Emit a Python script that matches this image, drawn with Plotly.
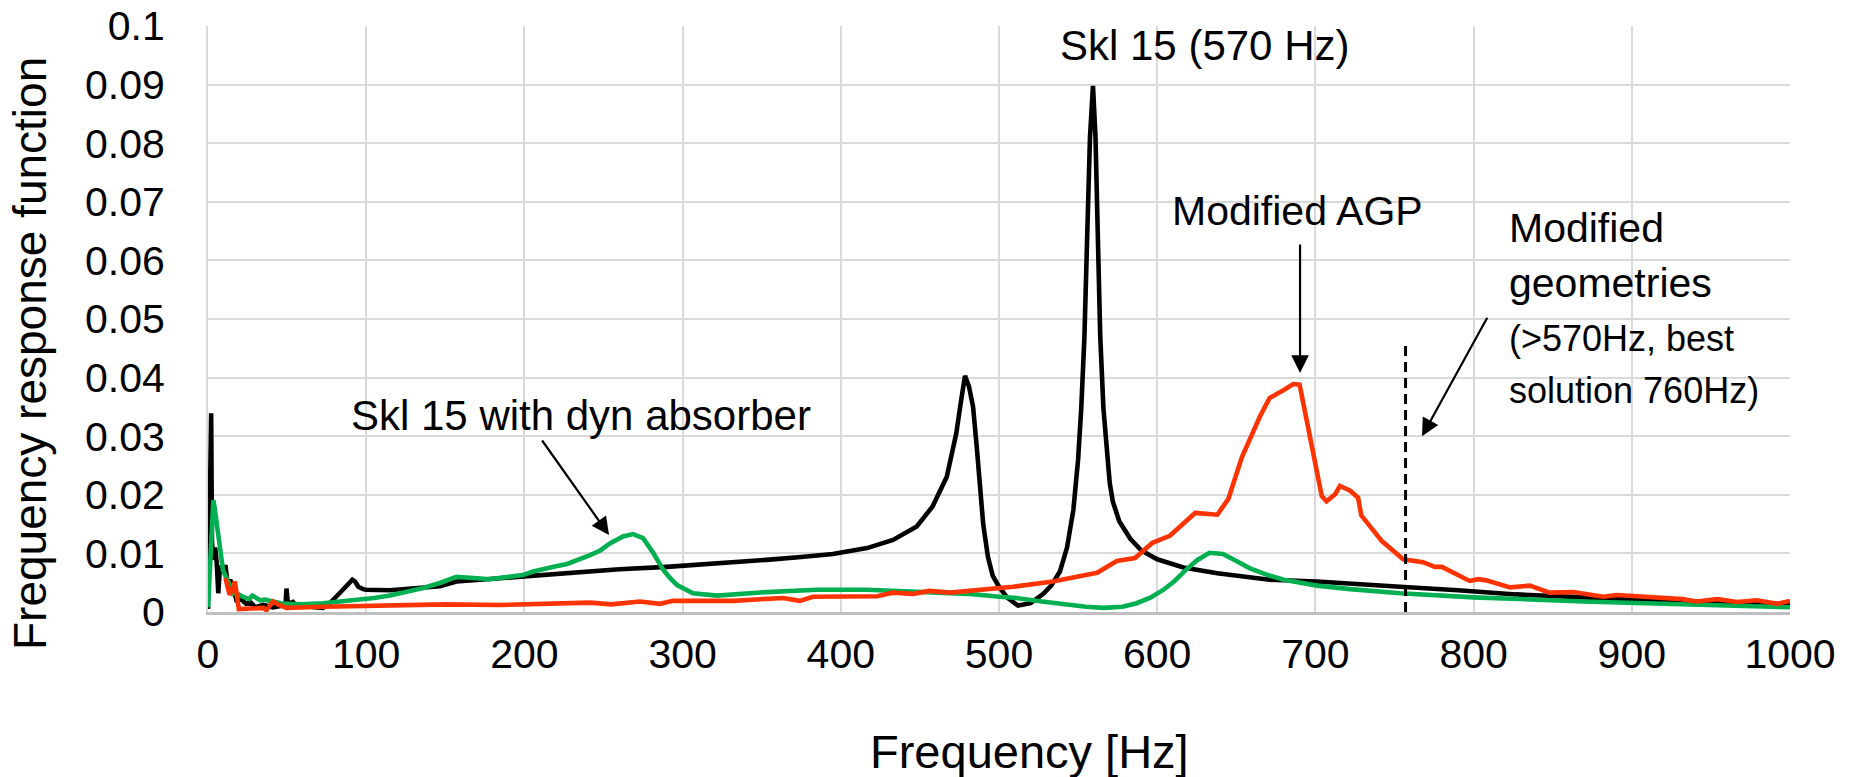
import plotly.graph_objects as go

# ---------------- data ----------------
black_f = [0, 0.5, 1, 2, 2.5, 3.4, 4.5, 5.5, 6.5, 7.5, 8.5, 10, 11, 12.6, 14, 15, 18, 21, 24, 27, 30,
           35, 41, 45, 49, 49.6, 50.5, 53.7, 56, 62, 67, 72.6, 76, 81, 85, 88, 91.3, 93, 95, 98, 100,
           115, 130, 146.6, 157, 180, 199, 227, 241.5, 260, 290, 320, 353, 375, 395, 416.6, 433, 448,
           458, 467, 473, 476, 478.5, 481, 483.6, 486, 488, 490, 493, 496, 499.6, 505, 512, 520, 528,
           533, 538.5, 543, 547, 550, 552, 554, 555.6, 557.5, 559.4, 561, 562.6, 564, 566, 568, 570,
           572, 576, 583, 590, 600, 616.6, 638, 660, 671, 701, 722, 753.5, 790, 827, 870, 900, 950, 1000]
black_v = [0.0005, 0.022, 0.015, 0.0339, 0.012, 0.0089, 0.011, 0.0085, 0.0032, 0.0075, 0.0077, 0.0068,
           0.0080, 0.0043, 0.0055, 0.0048, 0.0020, 0.0022, 0.0014, 0.0016, 0.0008,
           0.0012, 0.0008, 0.0010, 0.0012, 0.0040, 0.0014, 0.0017, 0.0010, 0.0011, 0.0008, 0.0007,
           0.0012, 0.0026, 0.0038, 0.0047, 0.0055, 0.0052, 0.0043, 0.0039, 0.0038,
           0.0037, 0.0040, 0.0044, 0.0052, 0.0057, 0.0060, 0.0067, 0.0069, 0.0073, 0.0077, 0.0082,
           0.0089, 0.0094, 0.0099, 0.0109, 0.0123, 0.0146,
           0.0180, 0.0231, 0.0305, 0.0360, 0.0403, 0.0385, 0.0350, 0.0280, 0.0220, 0.0150, 0.0094,
           0.0062, 0.0045, 0.0025, 0.0011, 0.0015, 0.0031,
           0.0045, 0.0069, 0.0110, 0.0174, 0.0260, 0.0348, 0.0470, 0.0627, 0.0810, 0.0898, 0.0810,
           0.0627, 0.0470, 0.0348, 0.0270, 0.0220,
           0.0188, 0.0155, 0.0125, 0.0105, 0.0090, 0.0076, 0.0066, 0.0059, 0.0055, 0.0052, 0.0049,
           0.0043, 0.0037, 0.0030, 0.0025, 0.0021, 0.0017, 0.0013]

green_f = [0, 1.2, 2.5, 3.4, 4.4, 5.5, 6.5, 8, 9.5, 11, 12.6, 14, 15.8, 18, 22, 26, 28, 30.5, 33, 36,
           41, 46, 51.6, 60, 72.6, 85, 94, 105, 115, 125, 136, 147, 157, 168, 178, 199, 205.5, 220,
           227, 241.5, 248, 254, 262.3, 268.7, 275, 281.4, 287.8, 292, 296.5, 306.6, 321.7, 353, 385,
           416.6, 458, 480, 500.6, 511, 527, 543, 555, 566, 578, 587, 596, 604, 611, 617, 625, 633,
           641.6, 650, 659, 670, 680, 701, 722, 753.5, 800, 869, 930, 1000]
green_v = [0.0008, 0.0089, 0.016, 0.0191, 0.0174, 0.015, 0.0122, 0.0095, 0.0071, 0.0062, 0.0054,
           0.0045, 0.0031, 0.0032, 0.0026, 0.0022, 0.0028, 0.0024, 0.0020, 0.0021,
           0.0017, 0.0015, 0.0014, 0.0013, 0.0015, 0.0018, 0.0020, 0.0024, 0.0028, 0.0034, 0.0041,
           0.0050, 0.0060, 0.0058, 0.0056, 0.0063, 0.0069, 0.0078,
           0.0082, 0.0097, 0.0105, 0.0117, 0.0129, 0.0133, 0.0126, 0.0101, 0.0072, 0.0058, 0.0046,
           0.0032, 0.0028, 0.0034, 0.0038,
           0.0038, 0.0034, 0.0031, 0.0026, 0.0024, 0.0018, 0.0012, 0.0009, 0.0007, 0.0009, 0.0015,
           0.0025, 0.0038, 0.0053, 0.0069, 0.0088, 0.0101,
           0.0099, 0.0087, 0.0074, 0.0063, 0.0055, 0.0045, 0.0039, 0.0032, 0.0025, 0.0018, 0.0013,
           0.0008]

red_f = [11, 13.7, 17, 19.5, 27, 34.8, 36.9, 41, 45, 49.6, 72.6, 115, 150, 184.6, 220, 241.5, 255,
         273, 285.7, 294, 332, 363.5, 374, 382.4, 423, 433, 445.6, 456, 469, 490, 500.6, 509, 534,
         562, 574.5, 586, 597, 608, 624, 638, 645, 653.5, 665, 671, 680, 686, 690, 704, 707, 712.5,
         715.5, 722, 727, 729, 742, 755.5, 768, 775.6, 780, 797.5, 803, 808, 823, 835.6, 848, 863,
         882, 890.6, 932, 941, 954, 966.5, 979, 992, 1000]
red_v = [0.0058, 0.0029, 0.0052, 0.0005, 0.0006, 0.0007, 0.0003, 0.0018, 0.0012, 0.0007, 0.0009,
         0.0012, 0.0013, 0.0012, 0.0015, 0.0016, 0.0013,
         0.0018, 0.0014, 0.0019, 0.0019, 0.0024, 0.0019, 0.0026, 0.0027, 0.0033, 0.0031, 0.0036,
         0.0033, 0.0038, 0.0041, 0.0043, 0.0052,
         0.0067, 0.0087, 0.0092, 0.0118, 0.0130, 0.0169, 0.0166, 0.0193, 0.0264, 0.0334, 0.0365,
         0.0379, 0.0389, 0.0388, 0.0198, 0.0189, 0.0201,
         0.0215, 0.0207, 0.0195, 0.0165, 0.0121, 0.0090, 0.0085, 0.0077, 0.0077, 0.0053, 0.0056,
         0.0054, 0.0042, 0.0045, 0.0033, 0.0034,
         0.0026, 0.0029, 0.0022, 0.0018, 0.0022, 0.0017, 0.0020, 0.0014, 0.0019]

x_ticks = [0, 100, 200, 300, 400, 500, 600, 700, 800, 900, 1000]
y_ticks = [0, 0.01, 0.02, 0.03, 0.04, 0.05, 0.06, 0.07, 0.08, 0.09, 0.1]
y_tick_text = ["0", "0.01", "0.02", "0.03", "0.04", "0.05", "0.06", "0.07", "0.08", "0.09", "0.1"]

best_solution_hz = 757
dashed_top = 0.0457

FONT = "Arial, Liberation Sans, sans-serif"

fig = go.Figure()
fig.add_trace(go.Scatter(x=black_f, y=black_v, mode="lines", name="Skl 15",
                         line=dict(color="#000000", width=4.6)))
fig.add_trace(go.Scatter(x=green_f, y=green_v, mode="lines", name="Skl 15 with dyn absorber",
                         line=dict(color="#00B050", width=4.6)))
fig.add_trace(go.Scatter(x=red_f, y=red_v, mode="lines", name="Modified AGP",
                         line=dict(color="#FF3300", width=4.6)))

fig.add_shape(type="line", xref="x", yref="y", x0=best_solution_hz, x1=best_solution_hz,
              y0=0, y1=dashed_top, line=dict(color="#000000", width=3, dash="10px,6px"))

annots = []
def text_ann(x, y, text, size, xanchor="center"):
    annots.append(dict(x=x, y=y, xref="x", yref="y", text=text, showarrow=False,
                       xanchor=xanchor, yanchor="middle",
                       font=dict(family=FONT, size=size, color="#000000")))

def arrow(x, y, ax, ay):
    annots.append(dict(x=x, y=y, xref="x", yref="y", ax=ax, ay=ay, text="", showarrow=True,
                       arrowhead=2, arrowsize=1.6, arrowwidth=2.2, arrowcolor="#000000",
                       standoff=0, startstandoff=0))

text_ann(630.2, 0.0966, "Skl 15 (570 Hz)", 42)
text_ann(688.4, 0.06843, "Modified AGP", 41)
text_ann(235.5, 0.03345, "Skl 15 with dyn absorber", 42)
text_ann(821.1, 0.06561, "Modified", 41, "left")
text_ann(821.1, 0.05614, "geometries", 41, "left")
text_ann(821.1, 0.04659, "(&gt;570Hz, best", 36, "left")
text_ann(821.1, 0.03788, "solution 760Hz)", 36, "left")

arrow(253.5, 0.01314, -68, -96)
arrow(690.3, 0.0408, 0, -130)
arrow(767.4, 0.0300, 66, -120)

# axis titles as annotations
annots.append(dict(x=0.519, y=-0.238, xref="paper", yref="paper", text="Frequency [Hz]",
                   showarrow=False, xanchor="center", yanchor="middle",
                   font=dict(family=FONT, size=47, color="#000000")))
annots.append(dict(x=-0.1125, y=0.4403, xref="paper", yref="paper", text="Frequency response function",
                   showarrow=False, xanchor="center", yanchor="middle", textangle=-90,
                   font=dict(family=FONT, size=46, color="#000000")))

fig.update_layout(
    width=1851, height=777,
    margin=dict(l=208, r=61, t=26, b=165, pad=0, autoexpand=False),
    paper_bgcolor="#FFFFFF", plot_bgcolor="#FFFFFF",
    showlegend=False,
    annotations=annots,
    font=dict(family=FONT, color="#000000"),
)
fig.update_xaxes(range=[0, 1000], tickvals=x_ticks, showgrid=True, gridcolor="#D9D9D9", gridwidth=2,
                 showline=True, linecolor="#BFBFBF", linewidth=2.5, zeroline=False, automargin=False,
                 ticks="", ticklabelstandoff=4, tickfont=dict(family=FONT, size=41, color="#000000"))
fig.update_yaxes(range=[0, 0.1], tickvals=y_ticks, ticktext=y_tick_text, showgrid=True,
                 gridcolor="#D9D9D9", gridwidth=2, showline=True, linecolor="#D9D9D9", linewidth=2,
                 zeroline=False, ticks="", ticklabelstandoff=33, automargin=False,
                 tickfont=dict(family=FONT, size=41, color="#000000"))

fig.write_html("out.html")
